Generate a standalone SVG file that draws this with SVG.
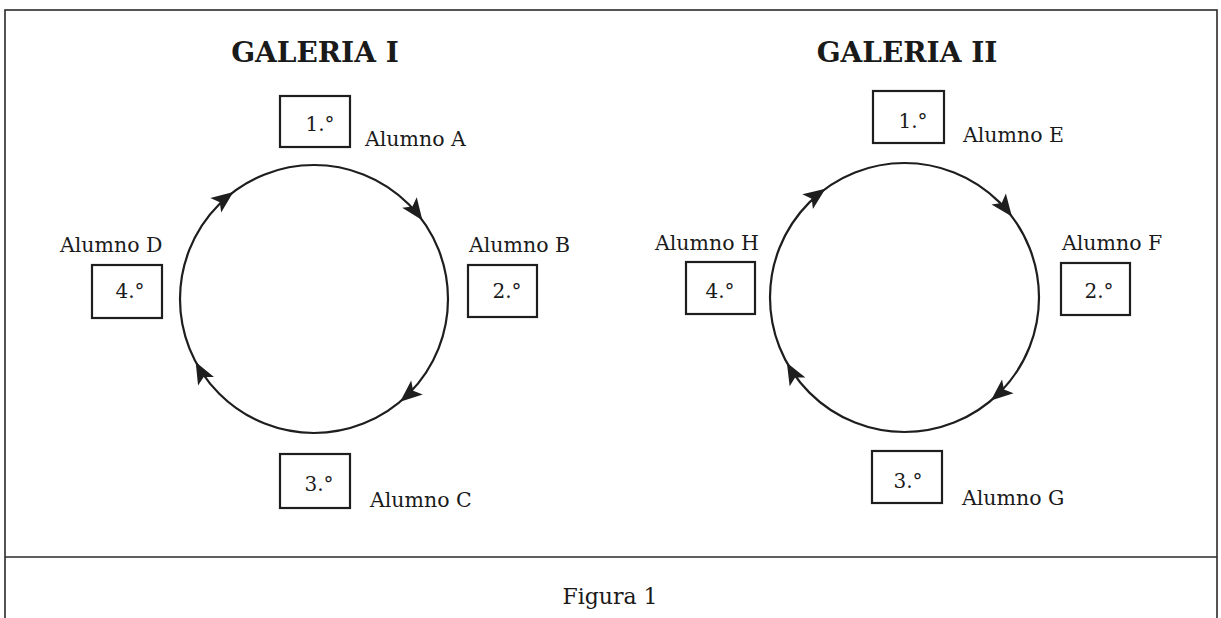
<svg xmlns="http://www.w3.org/2000/svg" xmlns:xlink="http://www.w3.org/1999/xlink" width="1221" height="618" viewBox="0 0 1221 618">
<style>
.t{font-family:"DejaVu Serif","Liberation Serif",serif;fill:#1a1a1a;}
.lbl{font-size:20.5px;}
.num{font-size:20px;text-anchor:middle;}
.ttl{font-size:28px;font-weight:bold;text-anchor:middle;}
.box{fill:none;stroke:#1e1e1e;stroke-width:2.2;}
.ring{fill:none;stroke:#1e1e1e;stroke-width:2.2;}
.frame{fill:none;stroke:#2a2a2a;stroke-width:1.6;}
.ah{fill:#1e1e1e;}
</style>
<defs>
<path id="ah" d="M0,0 L-22,-9 L-17,0 L-22,9 Z"/>
</defs>
<rect x="0" y="0" width="1221" height="618" fill="#ffffff"/>
<g id="frame">
<rect class="frame" x="5" y="10" width="1212" height="640"/>
<line class="frame" x1="5" y1="557" x2="1217" y2="557"/>
</g>
<text class="t ttl" x="315" y="62">GALERIA I</text>
<text class="t ttl" x="907" y="62">GALERIA II</text>
<g id="connectors">
<circle class="ring" cx="314" cy="299" r="134"/>
<use xlink:href="#ah" class="ah" transform="translate(314,299) rotate(-127) translate(134,0) rotate(90)"/>
<use xlink:href="#ah" class="ah" transform="translate(314,299) rotate(-36) translate(134,0) rotate(90)"/>
<use xlink:href="#ah" class="ah" transform="translate(314,299) rotate(50) translate(134,0) rotate(90)"/>
<use xlink:href="#ah" class="ah" transform="translate(314,299) rotate(152) translate(134,0) rotate(90)"/>
<circle class="ring" cx="904.5" cy="297.5" r="134.5"/>
<use xlink:href="#ah" class="ah" transform="translate(904.5,297.5) rotate(-126) translate(134.5,0) rotate(90)"/>
<use xlink:href="#ah" class="ah" transform="translate(904.5,297.5) rotate(-37) translate(134.5,0) rotate(90)"/>
<use xlink:href="#ah" class="ah" transform="translate(904.5,297.5) rotate(50) translate(134.5,0) rotate(90)"/>
<use xlink:href="#ah" class="ah" transform="translate(904.5,297.5) rotate(151) translate(134.5,0) rotate(90)"/>
</g>
<g id="nodeA">
<rect class="box" x="280" y="96" width="70" height="51"/>
<text class="t num" x="320" y="131">1.°</text>
<text class="t lbl" x="365" y="146">Alumno A</text>
</g>
<g id="nodeB">
<rect class="box" x="468" y="265" width="69" height="52"/>
<text class="t num" x="507" y="298">2.°</text>
<text class="t lbl" x="469" y="252">Alumno B</text>
</g>
<g id="nodeC">
<rect class="box" x="280" y="454" width="70" height="54"/>
<text class="t num" x="319" y="491">3.°</text>
<text class="t lbl" x="370" y="507">Alumno C</text>
</g>
<g id="nodeD">
<rect class="box" x="92" y="265" width="70" height="53"/>
<text class="t num" x="130" y="298">4.°</text>
<text class="t lbl" x="60" y="252">Alumno D</text>
</g>
<g id="nodeE">
<rect class="box" x="873" y="91" width="71" height="52"/>
<text class="t num" x="913" y="128">1.°</text>
<text class="t lbl" x="963" y="142">Alumno E</text>
</g>
<g id="nodeF">
<rect class="box" x="1061" y="263" width="69" height="52"/>
<text class="t num" x="1099" y="298">2.°</text>
<text class="t lbl" x="1062" y="250">Alumno F</text>
</g>
<g id="nodeG">
<rect class="box" x="872" y="451" width="70" height="52"/>
<text class="t num" x="908" y="488">3.°</text>
<text class="t lbl" x="962" y="505">Alumno G</text>
</g>
<g id="nodeH">
<rect class="box" x="686" y="262" width="69" height="52"/>
<text class="t num" x="720" y="298">4.°</text>
<text class="t lbl" x="655" y="250">Alumno H</text>
</g>
<text class="t" x="610" y="604" font-size="22" text-anchor="middle">Figura 1</text>
</svg>
